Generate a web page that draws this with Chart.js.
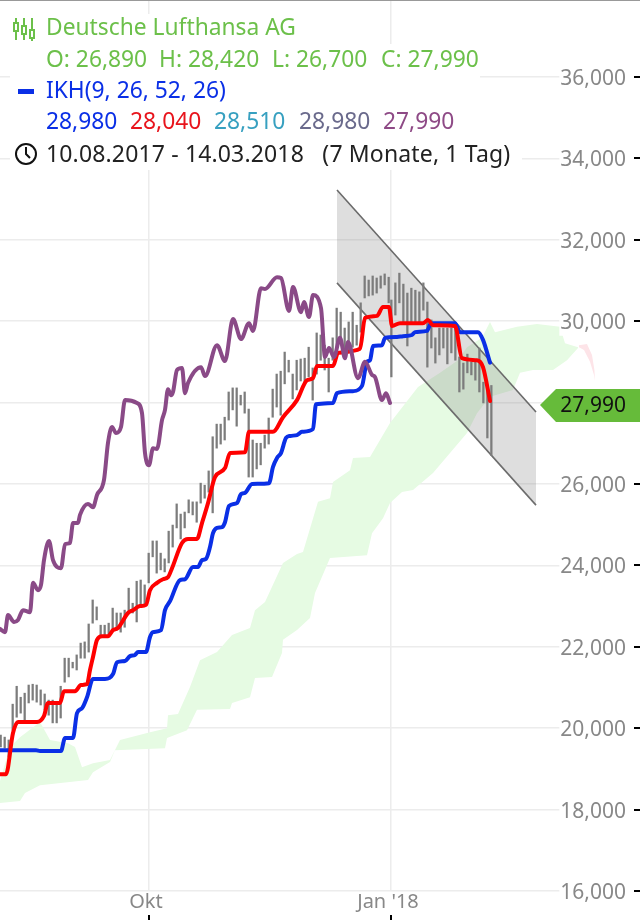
<!DOCTYPE html>
<html>
<head>
<meta charset="utf-8">
<title>Deutsche Lufthansa AG</title>
<script src="https://cdn.jsdelivr.net/npm/chart.js@4"></script>
<style>
  html, body { margin: 0; padding: 0; background: #fff; }
  #wrap { position: relative; width: 640px; height: 920px; overflow: hidden; font-family: "Noto Sans", sans-serif; }
  #wrap canvas { position: absolute; left: 0; top: 0; }
  #topline { position: absolute; left: 0; top: 0; width: 640px; height: 1px; background: #999; }
  .box { position: absolute; left: 10px; background: #fff; }
  .row { position: absolute; white-space: pre; font-size: 22.8px; line-height: 28px; }
  .row span { position: absolute; top: 0; }
  #dash { position: absolute; left: 18px; top: 89px; width: 16px; height: 5px; background: #0a2fe6; }
  svg { position: absolute; }
</style>
</head>
<body>
<div id="wrap">
  <canvas id="lufthansaChart" width="640" height="920"></canvas>
  <div id="topline"></div>
  <div class="box" style="top:14px;width:292px;height:30px"></div>
  <div class="box" style="top:44px;width:470px;height:96px"></div>
  <div class="box" style="top:140px;width:512px;height:30px"></div>

  <svg style="left:12px;top:16px" width="26" height="26" viewBox="0 0 26 26" fill="none" stroke="#6cc04a" stroke-width="2">
    <path d="M4 2v5M4 15v9M12 2v8M12 18v6M20 2v12M20 22v3"/>
    <rect x="2" y="7" width="4" height="8"/><rect x="10" y="10" width="4" height="8"/><rect x="18" y="14" width="4" height="8"/>
  </svg>
  <div class="row" style="left:46px;top:13px;color:#6cc04a">Deutsche Lufthansa AG</div>
  <div class="row" style="left:46px;top:45px;color:#6cc04a">
    <span style="left:0">O: 26,890</span><span style="left:113px">H: 28,420</span><span style="left:226px">L: 26,700</span><span style="left:335px">C: 27,990</span>
  </div>
  <div id="dash"></div>
  <div class="row" style="left:46px;top:76px;color:#0a2fe6">IKH(9, 26, 52, 26)</div>
  <div class="row" style="left:46px;top:107px">
    <span style="left:0;color:#0a2fe6">28,980</span><span style="left:84px;color:#e8141c">28,040</span><span style="left:168px;color:#37a0c0">28,510</span><span style="left:253px;color:#6a6a8c">28,980</span><span style="left:337px;color:#8e4a86">27,990</span>
  </div>
  <svg style="left:14px;top:142px" width="24" height="24" viewBox="0 0 24 24" fill="none" stroke="#111" stroke-width="2">
    <circle cx="12" cy="12" r="10"/><path d="M12 5v7l4 4"/>
  </svg>
  <div class="row" style="left:46px;top:139px;color:#222;font-size:23px;letter-spacing:0.15px">10.08.2017 - 14.03.2018   (7 Monate, 1 Tag)</div>
</div>

<script>
// everything in euro, x in bar units (one bar is 4px wide in the picture)
const yTicks = [16, 18, 20, 22, 24, 26, 28, 30, 32, 34, 36];
const xTicks = [37.25, 97.75];
const xLabels = ['Okt', "Jan '18"];
const lastClose = 27.99;

const barHigh = [19.83, 19.78, 19.71, 20.59, 21.03, 20.76, 20.86, 21.06, 21.08, 21.06, 20.94, 20.84, 20.69, 20.69, 20.57, 21.03,
  21.72, 21.72, 21.62, 21.80, 22.09, 22.12, 22.56, 23.15, 22.98, 22.53, 22.53, 22.58, 22.95, 22.83, 22.83, 22.90, 23.44, 23.07,
  23.61, 23.64, 23.52, 24.30, 24.60, 24.60, 24.30, 24.16, 24.84, 24.99, 25.51, 25.26, 25.31, 25.61, 25.56, 25.56, 26.02, 25.97,
  26.32, 27.16, 27.47, 27.47, 27.64, 28.26, 28.36, 28.36, 28.18, 28.26, 27.84, 27.08, 27.00, 27.00, 27.20, 27.62, 28.33, 28.70,
  28.77, 29.24, 29.04, 28.70, 29.04, 29.07, 29.09, 29.36, 28.85, 29.71, 29.66, 29.41, 29.09, 29.59, 30.32, 30.22, 29.83, 29.98,
  30.22, 29.90, 30.45, 31.11, 31.01, 31.11, 31.06, 31.11, 31.16, 31.08, 30.52, 30.94, 31.18, 30.91, 30.69, 30.81, 30.76, 30.72,
  30.94, 30.47, 30.03, 29.59, 29.83, 29.83, 29.83, 29.83, 29.86, 29.12, 28.97, 29.19, 29.00, 29.00, 29.34, 28.50, 28.36, 28.42];
const barLow = [19.54, 19.51, 19.29, 19.95, 20.27, 20.37, 20.15, 20.62, 20.69, 20.64, 20.57, 20.45, 20.32, 20.13, 20.13, 20.25,
  21.13, 21.26, 21.48, 21.43, 21.72, 21.72, 21.87, 22.58, 22.66, 22.29, 22.29, 22.29, 22.41, 22.41, 22.36, 22.48, 22.83, 22.83,
  22.61, 23.03, 23.03, 23.57, 24.21, 23.81, 23.89, 23.84, 24.06, 24.45, 24.92, 24.65, 24.92, 25.29, 25.24, 25.06, 25.53, 25.65,
  25.80, 25.29, 26.88, 26.98, 27.08, 27.57, 27.82, 27.42, 27.94, 27.74, 26.17, 26.17, 26.37, 26.47, 26.88, 26.98, 27.64, 27.89,
  27.69, 28.46, 28.75, 28.09, 28.31, 28.53, 28.50, 28.63, 28.06, 28.70, 29.04, 28.80, 28.26, 29.04, 29.29, 29.46, 29.32, 29.22,
  29.36, 29.41, 29.73, 30.57, 30.62, 30.64, 30.69, 30.81, 30.89, 30.45, 28.63, 30.15, 30.45, 29.95, 29.39, 29.95, 29.95, 29.95,
  30.27, 28.87, 29.34, 28.97, 29.17, 29.34, 28.95, 29.22, 29.04, 28.26, 28.33, 28.73, 28.68, 28.55, 28.26, 27.99, 27.13, 26.70];

const tenkanX = [0, 1.5, 3.25, 4.5, 9.25, 11, 12, 15, 16, 18.75, 20.25, 21.75, 22.5, 23.25, 24.25, 25.5, 27, 28.25, 29.5, 32, 33.25, 35,
  36.5, 37.5, 39.25, 40.75, 42, 43, 45.5, 47, 49.25, 50.5, 52, 53.75, 56.25, 57.5, 61.25, 62.25, 68.25, 70.75, 74.25, 76.75, 78.25,
  79.25, 83.25, 84.5, 90, 91.25, 94.25, 95.75, 97.25, 98, 100, 105.75, 107, 108.25, 113.75, 115.5, 119.25, 120.75, 122.5];
const tenkan = [18.87, 18.87, 19.88, 20.15, 20.15, 20.30, 20.62, 20.62, 20.91, 20.91, 21.06, 21.08, 21.43, 21.75, 22.17, 22.26, 22.26, 22.41,
  22.46, 22.83, 22.90, 23.00, 23.03, 23.39, 23.57, 23.66, 23.71, 23.93, 24.55, 24.65, 24.65, 25.04, 25.53, 26.17, 26.39, 26.76, 26.78,
  27.28, 27.28, 27.64, 28.06, 28.55, 28.60, 28.90, 28.90, 29.22, 29.32, 30.08, 30.13, 30.35, 30.35, 29.88, 29.95, 29.95, 30.03, 29.90,
  29.88, 29.09, 29.04, 28.87, 28.04];

const kijunX = [0, 9, 10, 15.25, 16.25, 18.25, 19.25, 20.5, 21.75, 23.25, 26.25, 28.25, 29.25, 31.25, 32.5, 33.75, 34.5, 36.5, 37.5, 38.25,
  40.25, 41.25, 42.5, 45, 46.25, 48.25, 49.5, 50.5, 51.5, 52.5, 53.25, 54.25, 55.5, 56.25, 57.25, 59.25, 60.25, 61.25, 63, 67.25, 68.25,
  69.25, 70.25, 71.5, 72.5, 74.25, 75.5, 78.25, 79, 83.25, 84.25, 88.25, 90.5, 91.75, 92.5, 93.25, 95.5, 96.25, 99.25, 100.75, 103,
  103.75, 106.75, 107.75, 113.75, 115, 119.5, 120.75, 122.5];
const kijun = [19.46, 19.46, 19.44, 19.44, 19.76, 19.76, 20.37, 20.49, 20.76, 21.21, 21.21, 21.33, 21.62, 21.65, 21.77, 21.80, 21.87, 21.87,
  22.24, 22.36, 22.41, 22.90, 23.12, 23.64, 23.66, 23.96, 23.96, 24.13, 24.16, 24.45, 24.79, 24.92, 24.94, 25.06, 25.46, 25.53, 25.75,
  25.78, 26.00, 26.02, 26.42, 26.64, 26.76, 27.13, 27.18, 27.20, 27.28, 27.35, 27.96, 27.99, 28.23, 28.28, 28.41, 29.00, 29.04, 29.39,
  29.41, 29.59, 29.61, 29.63, 29.66, 29.73, 29.76, 29.95, 29.95, 29.73, 29.73, 29.54, 28.98];

const chikouX = [0, 1.25, 2, 3.5, 4.5, 5.75, 7.5, 8.25, 9.5, 10.25, 11, 12.25, 13.25, 15.25, 16.25, 17.5, 18.25, 19.5, 20, 22, 23.25, 24.25,
  26, 27, 28, 29, 30.25, 31.25, 34.25, 35.5, 36.25, 37.25, 38.25, 39.25, 40.5, 41.25, 42, 42.75, 43.25, 44.25, 45.5, 46.25, 47, 50.25,
  51.25, 54.25, 56.25, 58.25, 60.25, 62.25, 63.25, 65.25, 66.25, 69.25, 70.25, 72.25, 73.25, 75.25, 76, 77.25, 78.25, 80.25, 81.25,
  82.25, 83.5, 85, 86.25, 87, 89.5, 91.25, 93, 93.75, 95.5, 96.5, 97.5];
const chikou = [22.44, 22.36, 22.78, 22.61, 22.66, 22.90, 22.85, 23.57, 23.39, 23.52, 24.13, 24.60, 24.13, 23.93, 24.52, 24.55, 25.04, 25.04,
  25.24, 25.51, 25.43, 25.73, 26.10, 27.01, 27.40, 27.25, 27.40, 28.06, 27.99, 27.74, 26.76, 26.46, 26.88, 26.86, 27.57, 27.82, 28.33,
  28.18, 28.26, 28.80, 28.85, 28.23, 28.48, 28.87, 28.65, 29.41, 29.02, 30.05, 29.56, 29.95, 29.76, 30.81, 30.79, 31.08, 31.06, 30.25,
  30.84, 30.22, 30.47, 30.10, 30.64, 30.32, 29.12, 29.34, 29.12, 29.59, 29.09, 29.49, 28.60, 29.00, 28.68, 28.63, 28.06, 28.23, 27.99];

const cloudTopX = [0, 2.5, 5, 10, 12.5, 17, 18.75, 20.5, 23.25, 27.5, 30, 37.5, 41.75, 42, 44.5, 47.5, 50, 54.25, 58, 62.5, 63.75, 66.25, 70.75,
  74.25, 75.75, 79.5, 82.5, 83.25, 87.5, 88.25, 92.5, 97.5, 104.5, 110, 114.5, 116.75, 120.5, 122.5, 123.75, 129.25, 134.25, 140, 141.25, 144.5];
const cloudTop = [18.70, 19.54, 19.78, 20.15, 19.71, 19.63, 19.54, 19.04, 19.14, 19.22, 19.71, 19.90, 20.00, 20.32, 20.35, 21.01, 21.67, 21.87,
  22.29, 22.46, 22.90, 23.10, 24.06, 24.28, 24.33, 25.56, 25.65, 26.05, 26.34, 26.64, 26.66, 27.50, 28.38, 28.73, 29.04, 29.36, 29.59, 29.98,
  29.73, 29.86, 29.93, 29.86, 29.46, 29.36];
const cloudBottomX = [0, 5, 6.25, 10, 22, 23.25, 27.5, 28.75, 41.25, 41.75, 46.75, 49.25, 57.5, 58, 62.5, 63.75, 68, 70.5, 70.75, 74.25, 77.5, 78.75,
  82.5, 91.75, 93, 95.75, 97.5, 100.5, 103.25, 108.25, 116.75, 119.25, 122.5, 128.25, 130, 133.25, 138.25, 141.75, 144.5];
const cloudBottom = [18.16, 18.21, 18.41, 18.60, 18.73, 18.92, 19.17, 19.46, 19.51, 19.76, 19.95, 20.45, 20.47, 20.62, 20.76, 21.23, 21.26, 21.85,
  22.17, 22.41, 22.71, 23.32, 24.18, 24.25, 24.79, 25.16, 25.53, 25.80, 25.85, 26.27, 27.25, 27.74, 28.14, 28.31, 28.73, 28.80, 28.80, 29.04, 29.34];

const twistTopX = [144.75, 146.75, 148, 148.6, 148.75];
const twistTop = [29.41, 29.44, 29.17, 28.80, 28.53];
const twistBottomX = [144.75, 146, 147.5, 148.5, 148.75];
const twistBottom = [29.36, 29.29, 29.00, 28.68, 28.53];

const channelX = [84.25, 134];
const channelTop = [33.22, 27.77];
const channelBottom = [30.94, 25.48];

function pairs(xs, ys) {
  return xs.map(function (x, i) { return { x: x, y: ys[i] }; });
}

function fmt(v) {
  return v.toFixed(3).replace('.', ',');
}

function area(label, xs, ys, order, fill, color, line) {
  return {
    type: 'line', label: label, data: pairs(xs, ys), order: order,
    fill: fill, backgroundColor: color,
    borderColor: line || 'transparent', borderWidth: line ? 1.6 : 0, pointRadius: 0
  };
}

function curve(label, xs, ys, order, color) {
  return {
    type: 'line', label: label, data: pairs(xs, ys), order: order, fill: false,
    borderColor: color, borderWidth: 4, pointRadius: 0,
    borderJoinStyle: 'round', borderCapStyle: 'round', cubicInterpolationMode: 'monotone'
  };
}

// black tick marks and the price flag, drawn on top of everything
const overlay = {
  id: 'overlay',
  afterDraw: function (chart) {
    const c = chart.ctx;
    const sx = chart.scales.x;
    const sy = chart.scales.y;
    c.save();
    c.fillStyle = '#000';
    yTicks.forEach(function (v) {
      c.fillRect(634, Math.round(sy.getPixelForValue(v)) - 1, 6, 2);
    });
    xTicks.forEach(function (v) {
      c.fillRect(Math.round(sx.getPixelForValue(v)) - 1, 915, 2, 5);
    });
    const py = sy.getPixelForValue(lastClose) + 2;
    c.fillStyle = '#66bb3a';
    c.beginPath();
    c.moveTo(540, py);
    c.lineTo(556, py - 16);
    c.lineTo(640, py - 16);
    c.lineTo(640, py + 17);
    c.lineTo(556, py + 17);
    c.closePath();
    c.fill();
    c.fillStyle = '#111';
    c.font = '21px "Noto Sans"';
    c.textAlign = 'right';
    c.textBaseline = 'middle';
    c.fillText(fmt(lastClose), 626, py + 1);
    c.restore();
  }
};

const ctx = document.getElementById('lufthansaChart').getContext('2d');
const lufthansaChart = new Chart(ctx, {
  type: 'bar',
  data: {
    datasets: [
      curve('Chikou', chikouX, chikou, 1, '#8a4a87'),
      curve('Tenkan', tenkanX, tenkan, 2, '#ff0000'),
      curve('Kijun', kijunX, kijun, 3, '#0a2fe6'),
      {
        type: 'bar', label: 'Kurs', order: 4,
        // the row of bars jumps back a little after the turn of the year
        data: barHigh.map(function (h, i) {
          return { x: i + (i < 98 ? 0.17 : -0.16), y: [barLow[i], h] };
        }),
        backgroundColor: '#7c7c7c', barThickness: 1.6, grouped: false
      },
      area('Kanal oben', channelX, channelTop, 5, '+1', 'rgba(128,128,128,0.26)', '#6a6a6a'),
      area('Kanal unten', channelX, channelBottom, 6, false, 'transparent', '#6a6a6a'),
      area('Wolke oben', cloudTopX, cloudTop, 7, '+1', '#e6fbe3'),
      area('Wolke unten', cloudBottomX, cloudBottom, 8, false, 'transparent'),
      area('Twist oben', twistTopX, twistTop, 9, '+1', '#fde4e8'),
      area('Twist unten', twistBottomX, twistBottom, 10, false, 'transparent')
    ]
  },
  options: {
    responsive: false,
    animation: false,
    layout: { padding: 0 },
    plugins: { legend: { display: false }, tooltip: { enabled: false } },
    scales: {
      x: {
        type: 'linear', min: 0, max: 160, offset: false,
        afterBuildTicks: function (scale) {
          scale.ticks = xTicks.map(function (v) { return { value: v }; });
        },
        afterFit: function (scale) { scale.height = 29; },
        grid: { offset: false, color: '#ececec', lineWidth: 1.5, drawTicks: false },
        border: { display: false },
        ticks: {
          z: 1, autoSkip: false, maxRotation: 0, padding: -1, labelOffset: -3,
          color: '#888', font: { family: 'Noto Sans', size: 20 },
          callback: function (v, i) { return xLabels[i]; }
        }
      },
      y: {
        type: 'linear', position: 'right', min: 16, max: 37.89,
        afterBuildTicks: function (scale) {
          scale.ticks = yTicks.map(function (v) { return { value: v }; });
        },
        afterFit: function (scale) { scale.width = 0; },
        grid: { color: '#ececec', lineWidth: 1.5, drawTicks: false },
        border: { display: false },
        ticks: {
          z: 1, mirror: true, padding: -14, autoSkip: false, labelOffset: 2,
          color: '#888', font: { family: 'Noto Sans', size: 21 },
          showLabelBackdrop: true, backdropColor: '#fff',
          backdropPadding: { left: 1, right: 14, top: 0, bottom: 0 },
          callback: function (v) { return fmt(v); }
        }
      }
    }
  },
  plugins: [overlay]
});
</script>
</body>
</html>
